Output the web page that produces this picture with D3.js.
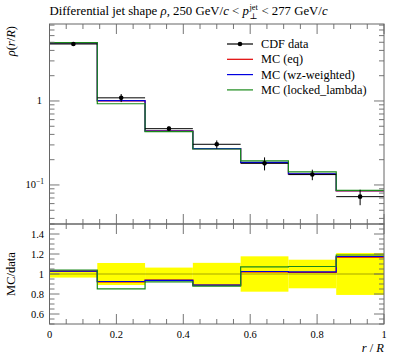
<!DOCTYPE html>
<html><head><meta charset="utf-8">
<script src="https://cdn.jsdelivr.net/npm/d3@7/dist/d3.min.js"></script>
<style>body{margin:0;background:#fff}svg{display:block}text{font-family:"Liberation Serif","DejaVu Serif",serif;fill:#000}</style>
</head><body><svg id="c" width="397" height="358"></svg>
<script>
const binEdges = [0, 0.142857, 0.285714, 0.428571, 0.571429, 0.714286, 0.857143, 1.0];
const dataX = [0.0714, 0.2143, 0.3571, 0.5, 0.6429, 0.7857, 0.9286];
const dataY = [4.77, 1.09, 0.468, 0.305, 0.181, 0.133, 0.0726];
const dataErr = [0.17, 0.12, 0.030, 0.034, 0.032, 0.019, 0.0152];
const mcEq = [4.91, 1.003, 0.440, 0.271, 0.185, 0.135, 0.0849];
const mcWz = [4.91, 1.008, 0.4385, 0.271, 0.1855, 0.1357, 0.0853];
const mcLocked = [4.96, 0.927, 0.431, 0.268, 0.194, 0.143, 0.0864];
const seriesNames = ["MC (eq)", "MC (wz-weighted)", "MC (locked_lambda)"];
const seriesColors = ["#e00000", "#0000e0", "#1a8a1a"];
const xTickLabels = ["0", "0.2", "0.4", "0.6", "0.8", "1"];
const ratioTickLabels = ["0.6", "0.8", "1", "1.2", "1.4"];

const svg = d3.select("#c");
const L = 49.5, R = 384, T = 24, M = 224, B = 324;
const x = d3.scaleLinear().domain([0, 1]).range([L, R]);
const y = d3.scaleLog().domain([0.0343, 8.25]).range([M, T]);
const yr = d3.scaleLinear().domain([0.5, 1.5]).range([B, M]);
const series = [mcEq, mcWz, mcLocked];

function stepPts(vals) {
  const p = [];
  vals.forEach((v, i) => { p.push([binEdges[i], v]); p.push([binEdges[i + 1], v]); });
  return p;
}
svg.append("clipPath").attr("id", "cm").append("rect").attr("x", L).attr("y", T).attr("width", R - L).attr("height", M - T);
svg.append("clipPath").attr("id", "cr").append("rect").attr("x", L).attr("y", M).attr("width", R - L).attr("height", B - M);

// ratio band
const gR = svg.append("g").attr("clip-path", "url(#cr)");
gR.selectAll("rect.band").data(dataY).join("rect")
  .attr("x", (d, i) => x(binEdges[i])).attr("width", (d, i) => x(binEdges[i + 1]) - x(binEdges[i]))
  .attr("y", (d, i) => yr(1 + dataErr[i] / d)).attr("height", (d, i) => yr(1 - dataErr[i] / d) - yr(1 + dataErr[i] / d))
  .attr("fill", "#ffff00");
gR.append("line").attr("x1", L).attr("x2", R).attr("y1", yr(1)).attr("y2", yr(1)).attr("stroke", "#000").attr("stroke-opacity", 0.35);
const lineR = d3.line().x(d => x(d[0])).y(d => yr(d[1]));
series.forEach((s, k) => {
  gR.append("path").attr("d", lineR(stepPts(s.map((v, i) => v / dataY[i])))).attr("fill", "none")
    .attr("stroke", seriesColors[k]).attr("stroke-width", 1.2);
});

// main
const gM = svg.append("g").attr("clip-path", "url(#cm)");
const lineM = d3.line().x(d => x(d[0])).y(d => y(d[1]));
series.forEach((s, k) => {
  gM.append("path").attr("d", lineM(stepPts(s))).attr("fill", "none")
    .attr("stroke", seriesColors[k]).attr("stroke-width", 1.2);
});
dataY.forEach((v, i) => {
  gM.append("line").attr("x1", x(binEdges[i])).attr("x2", x(binEdges[i + 1])).attr("y1", y(v)).attr("y2", y(v)).attr("stroke", "#000").attr("stroke-width", 1);
  gM.append("line").attr("x1", x(dataX[i])).attr("x2", x(dataX[i])).attr("y1", y(v - dataErr[i])).attr("y2", y(v + dataErr[i])).attr("stroke", "#000").attr("stroke-width", 1);
  gM.append("circle").attr("cx", x(dataX[i])).attr("cy", y(v)).attr("r", 2.3).attr("fill", "#000");
});

// frames
const axCol = "#666";
[[T, M], [M, B]].forEach(([t, b]) => {
  svg.append("rect").attr("x", L).attr("y", t).attr("width", R - L).attr("height", b - t).attr("fill", "none").attr("stroke", axCol).attr("stroke-width", 1);
});
function tick(x1, y1, x2, y2) { svg.append("line").attr("x1", x1).attr("y1", y1).attr("x2", x2).attr("y2", y2).attr("stroke", axCol).attr("stroke-width", 0.9); }
d3.range(0, 1.0001, 0.05).forEach(v => {
  const major = Math.abs(v * 5 - Math.round(v * 5)) < 1e-6;
  const len = major ? 10 : 5, xp = x(v);
  tick(xp, T, xp, T + len); tick(xp, M, xp, M - len);
  tick(xp, M, xp, M + len); tick(xp, B, xp, B - len);
});
[-2, -1, 0].forEach(k => {
  d3.range(1, 10).forEach(m => {
    const v = m * Math.pow(10, k);
    if (v < y.domain()[0] || v > y.domain()[1]) return;
    const len = m === 1 ? 10 : 5, yp = y(v);
    tick(L, yp, L + len, yp); tick(R, yp, R - len, yp);
  });
});
d3.range(0.5, 1.5001, 0.05).forEach(v => {
  const major = Math.abs(v * 5 - Math.round(v * 5)) < 1e-6;
  const len = major ? 10 : 5, yp = yr(v);
  tick(L, yp, L + len, yp); tick(R, yp, R - len, yp);
});

const fs = 10.5;
xTickLabels.forEach(t => {
  svg.append("text").attr("x", x(+t)).attr("y", 338).attr("text-anchor", "middle").attr("font-size", fs).text(t);
});
ratioTickLabels.forEach(t => {
  svg.append("text").attr("x", 44).attr("y", yr(+t) + 3.5).attr("text-anchor", "end").attr("font-size", fs).text(t);
});
svg.append("text").attr("x", 42).attr("y", y(1) + 3.5).attr("text-anchor", "end").attr("font-size", fs).text("1");
const t10 = svg.append("text").attr("x", 44).attr("y", y(0.1) + 3.5).attr("text-anchor", "end").attr("font-size", fs);
t10.append("tspan").text("10");
t10.append("tspan").attr("dy", -4).attr("font-size", 7.5).text("−1");

// axis labels
const afs = 12.5;
const yl = svg.append("text").attr("transform", `translate(15,${T + 2}) rotate(-90)`).attr("text-anchor", "end").attr("font-size", afs);
yl.append("tspan").attr("font-style", "italic").text("ρ");
yl.append("tspan").text("(");
yl.append("tspan").attr("font-style", "italic").text("r");
yl.append("tspan").text("/");
yl.append("tspan").attr("font-style", "italic").text("R");
yl.append("tspan").text(")");
svg.append("text").attr("transform", `translate(15,${yr(1)}) rotate(-90)`).attr("text-anchor", "middle").attr("font-size", afs).text("MC/data");
const xl = svg.append("text").attr("x", R).attr("y", 352).attr("text-anchor", "end").attr("font-size", afs);
xl.append("tspan").attr("font-style", "italic").text("r");
xl.append("tspan").text(" / ");
xl.append("tspan").attr("font-style", "italic").text("R");

// title
const tfs = 12.8, ty = 15;
const t1 = svg.append("text").attr("x", L).attr("y", ty).attr("font-size", tfs);
t1.append("tspan").text("Differential jet shape ");
t1.append("tspan").attr("font-style", "italic").text("ρ");
t1.append("tspan").text(", 250 GeV/");
t1.append("tspan").attr("font-style", "italic").text("c");
t1.append("tspan").text(" < ");
t1.append("tspan").attr("font-style", "italic").text("p");
const w1 = t1.node().getComputedTextLength();
const sup = svg.append("text").attr("x", L + w1 + 0.5).attr("y", ty - 5).attr("font-size", 8.5).text("jet");
svg.append("text").attr("x", L + w1 + 0.5).attr("y", ty + 3.5).attr("font-size", 8.5).text("⊥");
const ws = sup.node().getComputedTextLength();
const t2 = svg.append("text").attr("x", L + w1 + ws + 4).attr("y", ty).attr("font-size", tfs);
t2.append("tspan").text("< 277 GeV/");
t2.append("tspan").attr("font-style", "italic").text("c");

// legend
const lx1 = 227, lx2 = 253, ltx = 261, ly0 = 44, ldy = 15.3;
const legNames = ["CDF data"].concat(seriesNames);
const legCols = ["#000"].concat(seriesColors);
legNames.forEach((n, i) => {
  const yy = ly0 + i * ldy;
  svg.append("line").attr("x1", lx1).attr("x2", lx2).attr("y1", yy).attr("y2", yy).attr("stroke", legCols[i]).attr("stroke-width", 1.2);
  if (i === 0) svg.append("circle").attr("cx", (lx1 + lx2) / 2).attr("cy", yy).attr("r", 2.3).attr("fill", "#000");
  svg.append("text").attr("x", ltx).attr("y", yy + 4).attr("font-size", 12.3).text(n);
});
</script></body></html>
